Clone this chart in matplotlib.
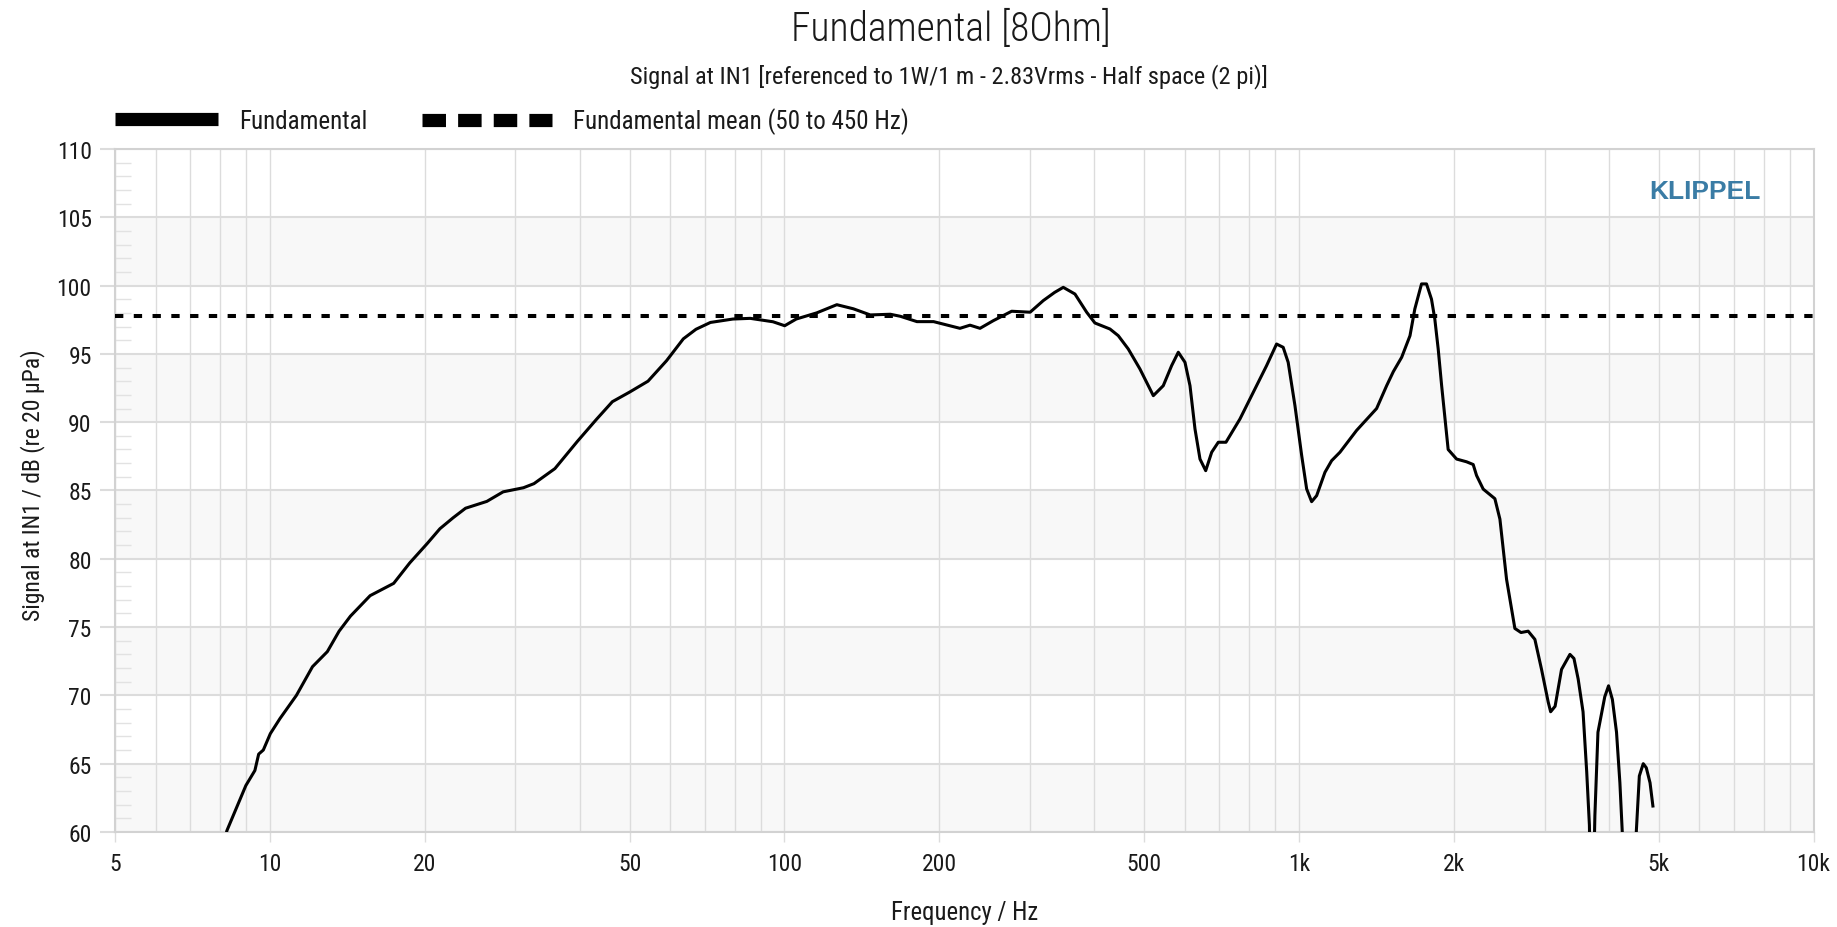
import matplotlib
matplotlib.use('Agg')
import matplotlib.pyplot as plt
from matplotlib import font_manager as fm
from matplotlib.lines import Line2D
from matplotlib.ticker import FixedLocator, NullFormatter, MultipleLocator

# ---------------- data ----------------
freq_hz = [7.9, 8.25, 8.62, 8.98, 9.35, 9.51, 9.71, 10.02, 10.46, 11.26, 12.1, 12.93,
           13.63, 14.34, 15.66, 17.4, 18.7, 20.2, 21.4, 22.7, 24.0, 26.4, 28.4, 31.1,
           32.6, 35.8, 39.6, 43.1, 46.3, 50.0, 54.3, 59.0, 63.6, 67.3, 71.8, 79.4,
           85.8, 95.0, 100.1, 105.4, 115.5, 126.4, 136.1, 146.8, 160.6, 168.0, 180.9,
           194.9, 219.3, 229.4, 239.9, 254.6, 276.4, 300.2, 318.4, 335.0, 348.2,
           366.9, 386.6, 401.2, 429.1, 445.4, 465.7, 490.6, 521.0, 544.7, 565.5,
           582.6, 600.3, 613.9, 627.8, 642.0, 658.6, 676.5, 696.8, 721.1, 767.6,
           820.8, 864.9, 904.4, 931.5, 952.6, 982.0, 1012.0, 1034.7, 1058.0, 1082.0,
           1123.0, 1157.0, 1201.0, 1294.0, 1415.0, 1480.0, 1525.0, 1583.0, 1643.0,
           1679.0, 1730.0, 1769.0, 1809.0, 1836.0, 1864.0, 1893.0, 1949.0, 2024.0,
           2116.0, 2180.0, 2213.0, 2280.0, 2402.0, 2457.0, 2531.0, 2627.0, 2700.0,
           2788.0, 2873.0, 2960.0, 3050.0, 3083.0, 3145.0, 3237.0, 3361.0, 3422.0,
           3487.0, 3564.0, 3623.0, 3667.0, 3705.0, 3758.0, 3810.0, 3928.0, 3995.0,
           4064.0, 4140.0, 4203.0, 4375.0, 4585.0, 4666.0, 4730.0, 4810.0, 4872.0]
level_db = [57.0, 60.1, 61.8, 63.4, 64.5, 65.7, 66.0, 67.2, 68.3, 70.0, 72.1, 73.2,
            74.7, 75.8, 77.3, 78.2, 79.7, 81.1, 82.2, 83.0, 83.7, 84.2, 84.9, 85.2,
            85.5, 86.6, 88.6, 90.2, 91.5, 92.2, 93.0, 94.5, 96.1, 96.8, 97.3, 97.55,
            97.6, 97.35, 97.06, 97.55, 98.0, 98.6, 98.3, 97.85, 97.9, 97.75, 97.36,
            97.36, 96.87, 97.1, 96.87, 97.43, 98.12, 98.05, 98.9, 99.5, 99.87,
            99.38, 98.05, 97.26, 96.82, 96.33, 95.36, 93.9, 91.94, 92.67, 94.14,
            95.12, 94.38, 92.67, 89.5, 87.3, 86.45, 87.8, 88.53, 88.53, 90.23,
            92.43, 94.14, 95.72, 95.48, 94.38, 91.2, 87.55, 85.11, 84.18, 84.62,
            86.33, 87.18, 87.8, 89.4, 91.0, 92.67, 93.7, 94.75, 96.33,
            98.29, 100.12, 100.12, 99.0, 97.55, 95.36, 92.67, 88.0, 87.3,
            87.1, 86.9, 86.1, 85.1, 84.4, 82.9, 78.5, 74.9, 74.6,
            74.7, 74.1, 71.9, 69.5, 68.8, 69.2, 71.9, 73.0, 72.7,
            71.2, 68.8, 64.4, 60.5, 50.0, 61.2, 67.3, 69.9, 70.7,
            69.7, 67.3, 63.6, 50.0, 64.1, 65.0, 64.7, 63.6, 61.9]
mean_db = 97.8

x_ticks = [5, 10, 20, 50, 100, 200, 500, 1000, 2000, 5000, 10000]
x_tick_labels = ['5', '10', '20', '50', '100', '200', '500', '1k', '2k', '5k', '10k']
y_ticks = [60, 65, 70, 75, 80, 85, 90, 95, 100, 105, 110]

title = 'Fundamental [8Ohm]'
subtitle = 'Signal at IN1 [referenced to 1W/1 m - 2.83Vrms - Half space (2 pi)]'
series_labels = ['Fundamental', 'Fundamental mean (50 to 450 Hz)']
x_label = 'Frequency / Hz'
y_label = 'Signal at IN1 / dB (re 20 μPa)'


# ---------------- fonts ----------------
def _w(v):
    if isinstance(v, int):
        return v
    return fm.weight_dict.get(str(v), 400)


def pick_font(weight_target, size):
    cands = []
    for f in fm.fontManager.ttflist:
        n = f.name
        st = str(f.stretch)
        cond = ('Condensed' in n) or ('Narrow' in n) or st in (
            'condensed', 'semi-condensed', 'extra-condensed', 'ultra-condensed')
        if not cond or f.style != 'normal':
            continue
        if 'Serif' in n or 'Mono' in n:
            continue
        if 'Roboto Condensed' in n:
            pr = 0
        elif 'Open Sans' in n:
            pr = 1
        elif 'Narrow' in n:
            pr = 2
        elif n == 'DejaVu Sans':
            pr = 3
        else:
            pr = 4
        cands.append((pr, abs(_w(f.weight) - weight_target), f.fname))
    if cands:
        return fm.FontProperties(fname=sorted(cands)[0][2], size=size)
    return fm.FontProperties(family='DejaVu Sans', size=size)


fp_title = pick_font(300, 28.5)
fp_sub = pick_font(400, 17.6)
fp_leg = pick_font(400, 18)
fp_tick = pick_font(400, 17)
fp_xlab = pick_font(400, 17.8)
fp_ylab = pick_font(400, 17)

text_color = '#1a1a1a'
grid_color = '#dcdcdc'

# ---------------- figure ----------------
fig = plt.figure(figsize=(18.37, 9.28), dpi=100)
ax = fig.add_axes([0.0626, 0.1024, 0.92466, 0.736])
ax.set_xscale('log')
ax.set_xlim(x_ticks[0], x_ticks[-1])
ax.set_ylim(y_ticks[0], y_ticks[-1])

# alternating bands
for i in range(0, len(y_ticks) - 1, 2):
    ax.axhspan(y_ticks[i], y_ticks[i + 1], color='#f8f8f8', lw=0, zorder=0)

ax.xaxis.set_major_locator(FixedLocator(x_ticks))
ax.set_xticklabels(x_tick_labels)
minor_x = [m * 10 ** e for e in range(0, 4) for m in range(2, 10)
           if x_ticks[0] < m * 10 ** e < x_ticks[-1] and m * 10 ** e not in x_ticks]
ax.xaxis.set_minor_locator(FixedLocator(minor_x))
ax.xaxis.set_minor_formatter(NullFormatter())
ax.yaxis.set_major_locator(FixedLocator(y_ticks))
ax.yaxis.set_minor_locator(MultipleLocator(1))

ax.grid(True, which='both', axis='x', color=grid_color, lw=1.0, zorder=1)
ax.grid(True, which='major', axis='y', color=grid_color, lw=1.5, zorder=1)
ax.set_axisbelow(True)

ax.tick_params(axis='x', which='major', length=7.2, width=1.0, color=grid_color,
               pad=7, labelcolor=text_color)
ax.tick_params(axis='x', which='minor', length=0)
ax.tick_params(axis='y', which='major', length=10.8, width=1.5, color=grid_color,
               pad=6, labelcolor=text_color)
ax.tick_params(axis='y', which='minor', direction='in', length=11.5, width=1.0,
               color='#e2e2e2')
for lbl in ax.get_xticklabels() + ax.get_yticklabels():
    lbl.set_fontproperties(fp_tick)

for s in ax.spines.values():
    s.set_color('#d2d2d2')
    s.set_linewidth(1.5)

# data
ax.plot(freq_hz, level_db, color='black', lw=2.2, zorder=3,
        solid_joinstyle='round')
ax.axhline(mean_db, color='black', lw=2.9, ls=(0, (2.07, 2.59)), zorder=3)

# legend (two single-entry legends so each handle keeps its own length)
h_solid = Line2D([], [], color='black', lw=9.5, solid_capstyle='butt')
h_dash = Line2D([], [], color='black', lw=9.5, ls=(0, (1.78, 0.92)),
                dash_capstyle='butt')
common = dict(loc='center left', frameon=False, borderaxespad=0, borderpad=0,
              handletextpad=0.84, prop=fp_leg, labelcolor=text_color)
fig.legend([h_solid], series_labels[:1], bbox_to_anchor=(0.0625, 0.8685),
           handlelength=4.12, **common)
fig.legend([h_dash], series_labels[1:], bbox_to_anchor=(0.2296, 0.8685),
           handlelength=5.2, **common)

# texts
fig.text(0.5175, 0.968, title, ha='center', va='center', fontproperties=fp_title,
         color=text_color)
fig.text(0.5165, 0.918, subtitle, ha='center', va='center', fontproperties=fp_sub,
         color=text_color)
fig.text(0.5252, 0.0165, x_label, ha='center', va='center', fontproperties=fp_xlab,
         color=text_color)
fig.text(0.0177, 0.4774, y_label, ha='center', va='center', rotation=90,
         fontproperties=fp_ylab, color=text_color)
fig.text(0.9282, 0.7931, 'KLIPPEL', ha='center', va='center', fontsize=19,
         fontweight='bold', family=['Liberation Sans', 'DejaVu Sans'],
         color='#3a7ca5')

fig.savefig('out.png', dpi=100)
